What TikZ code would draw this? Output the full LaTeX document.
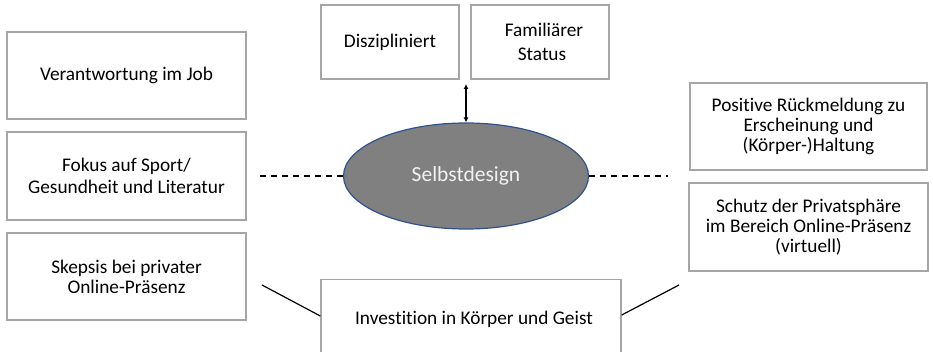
\documentclass[tikz,border=0pt]{standalone}
\usepackage{fontspec}
\setmainfont{Carlito}[Ligatures=NoCommon]
\usetikzlibrary{shapes.geometric,arrows.meta}
\tikzset{
  card/.style={draw=boxgrey, line width=1.4pt, fill=white, align=center,
    inner sep=0pt, font=\fontsize{19.3}{20}\selectfont},
  hub/.style={ellipse, draw=hubblue, line width=1.2pt, fill=hubfill,
    text=hubtext, inner sep=0pt, font=\fontsize{21.5}{24}\selectfont},
  link/.style={line width=1.2pt, black},
  dashlink/.style={link, line width=1.4pt, dash pattern=on 6pt off 5pt},
}
\definecolor{boxgrey}{HTML}{A6A6A6}
\definecolor{hubblue}{HTML}{2F528F}
\definecolor{hubfill}{HTML}{808080}
\definecolor{hubtext}{HTML}{F2F2F2}
\begin{document}
\begin{tikzpicture}[x=1pt,y=-1pt]
\useasboundingbox (0,0) rectangle (933,352);
\clip (0,0) rectangle (933,352);

% left column
\node[card, minimum width=239pt, minimum height=87pt] (job) at (126.5,75.5)
  {\raisebox{-4pt}{Verantwortung im Job}};
\node[card, minimum width=239pt, minimum height=88pt] (sport) at (126.5,176)
  {\raisebox{-4pt}{\shortstack{Fokus auf Sport/\\[2pt]Gesundheit und Literatur}}};
\node[card, minimum width=239pt, minimum height=87pt] (skepsis) at (126.5,276.5)
  {Skepsis bei privater\\Online-Präsenz};

% top pair
\node[card, minimum width=138pt, minimum height=74pt] (diszi) at (390,42)
  {\raisebox{-3pt}{Diszipliniert}};
\node[card, minimum width=138pt, minimum height=74pt] (famil) at (540,42)
  {\hspace{8pt}Familiärer\\[4pt]\hspace{4pt}Status};

% right column
\node[card, minimum width=237pt, minimum height=87pt] (feedback) at (808.5,126.5)
  {\raisebox{3pt}{\shortstack{Positive Rückmeldung zu\\Erscheinung und\\(Körper-)Haltung}}};
\node[card, minimum width=239pt, minimum height=88pt] (schutz) at (808.5,227)
  {Schutz der Privatsphäre\\im Bereich Online-Präsenz\\(virtuell)};

% bottom box (runs past the lower edge)
\node[card, minimum width=300pt, minimum height=90pt, anchor=north] (invest) at (471,279)
  {};
\node[font=\fontsize{19.3}{20}\selectfont] (investtext) at (474,319)
  {Investition in Körper und Geist};

% centre
\node[hub, minimum width=245pt, minimum height=106pt] (self) at (466,176)
  {Selbstdesign};

% connectors
\coordinate (dl) at (260,176);
\coordinate (dr) at (668,176);
\coordinate (sl) at (262,285);
\coordinate (sr) at (679,285);
\coordinate (at) at (466,84);

\draw[dashlink] (dl) -- (self.west);
\draw[dashlink] (self.east) -- (dr);
\draw[link] (sl) -- (invest.west |- 0,316);
\draw[link] (invest.east |- 0,315) -- (sr);
\draw[link, {Latex[length=5pt,width=5pt]}-{Latex[length=5pt,width=5pt]}]
  (at) -- (self.north);
\end{tikzpicture}
\end{document}
